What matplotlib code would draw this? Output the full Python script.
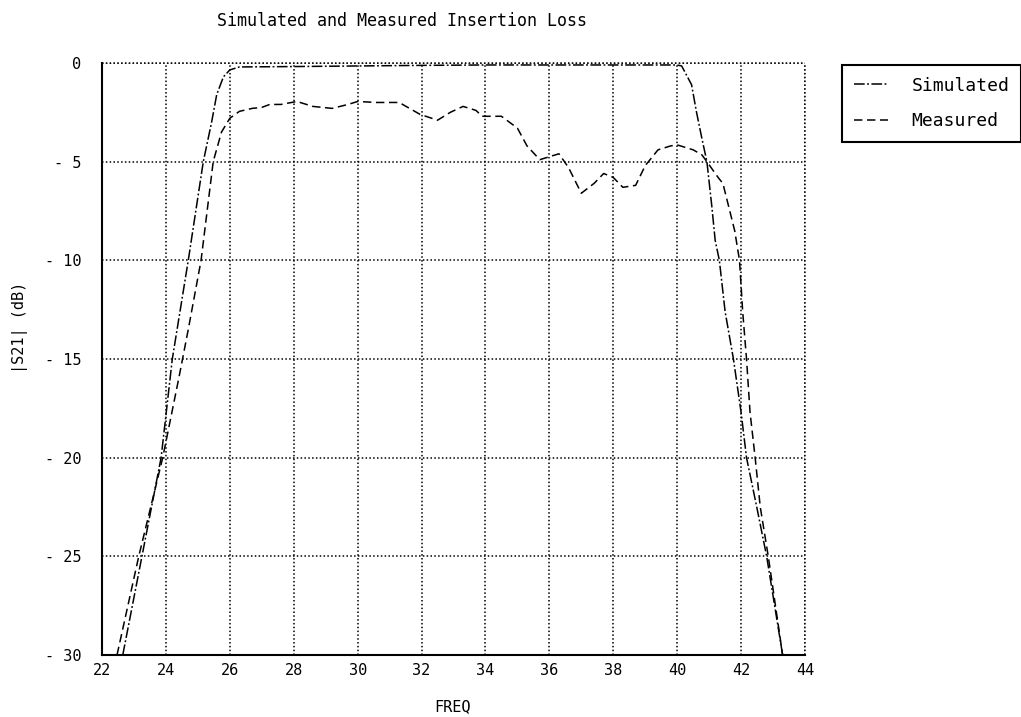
import matplotlib
matplotlib.use("Agg")
from matplotlib import pyplot as plt
from matplotlib.ticker import FuncFormatter

# simulated |S21| (dB) vs frequency (GHz)
sim_freq = [22.65, 23.25, 23.85, 24.2, 24.7, 25.17, 25.43, 25.59, 25.8, 26.0, 26.3,
            28.0, 30.0, 32.0, 34.0, 36.0, 38.0, 40.0, 40.14, 40.45, 40.6, 40.77,
            40.93, 41.08, 41.19, 41.32, 41.5, 41.76, 42.0, 42.17, 42.49, 42.8, 43.3]
sim_db = [-30, -25, -20, -15, -10, -5, -3.0, -1.6, -0.7, -0.35, -0.2,
          -0.18, -0.15, -0.12, -0.1, -0.1, -0.1, -0.1, -0.15, -1.1, -2.45, -3.8,
          -5.0, -7.2, -9.0, -10, -12.6, -15, -17.7, -20, -22.5, -25, -30]

# measured |S21| (dB)
meas_freq = [22.47, 23.15, 23.9, 24.4, 24.7, 25.1, 25.48, 25.74, 26.0, 26.3, 26.7,
             27.0, 27.25, 27.6, 28.1, 28.6, 29.2, 29.7, 30.0, 30.6, 31.3, 31.95,
             32.5, 32.9, 33.3, 33.7, 33.9, 34.5, 35.0, 35.3, 35.7, 36.1, 36.3,
             36.6, 37.0, 37.4, 37.7, 38.0, 38.3, 38.7, 39.0, 39.4, 39.8, 40.0,
             40.5, 40.77, 40.93, 41.28, 41.43, 41.6, 41.8, 41.95, 42.05, 42.17,
             42.28, 42.44, 42.6, 42.85, 43.3]
meas_db = [-30, -25, -20, -16, -13.5, -10, -5, -3.5, -2.8, -2.45, -2.3,
           -2.25, -2.1, -2.1, -1.95, -2.2, -2.3, -2.1, -1.95, -2.0, -2.0, -2.6,
           -2.9, -2.5, -2.2, -2.4, -2.7, -2.7, -3.3, -4.2, -4.9, -4.7, -4.6,
           -5.3, -6.6, -6.1, -5.6, -5.8, -6.3, -6.2, -5.2, -4.4, -4.2, -4.15,
           -4.4, -4.65, -5.0, -5.8, -6.1, -7.2, -8.5, -10, -12.6, -15,
           -17.7, -20, -22.5, -25, -30]

x_ticks = list(range(22, 45, 2))
y_ticks = list(range(-30, 1, 5))

mono = "DejaVu Sans Mono"
dots = (0, (1, 1.5))

fig = plt.figure(figsize=(10.21, 7.17), dpi=100)
ax = fig.add_axes([102 / 1021, 1 - 655 / 717, (805 - 102) / 1021, (655 - 63) / 717])

ax.plot(sim_freq, sim_db, color="black", lw=1.1,
        linestyle=(0, (7, 1.6, 1.2, 1.6)), label="Simulated")
ax.plot(meas_freq, meas_db, color="black", lw=1.1,
        linestyle=(0, (5.5, 3)), label="Measured")

ax.set_xlim(22, 44)
ax.set_ylim(-30, 0)
ax.set_xticks(x_ticks)
ax.set_yticks(y_ticks)
ax.yaxis.set_major_formatter(FuncFormatter(lambda v, p: "0" if v == 0 else "- %d" % abs(v)))
ax.tick_params(axis="both", length=0, labelsize=11)
ax.tick_params(axis="x", pad=6)
ax.tick_params(axis="y", pad=15)
for lab in ax.get_xticklabels() + ax.get_yticklabels():
    lab.set_family(mono)

ax.grid(True, color="black", lw=1.1, linestyle=dots)
ax.spines["top"].set_visible(False)
ax.spines["right"].set_visible(False)
ax.spines["left"].set_linewidth(1.5)
ax.spines["bottom"].set_linewidth(1.5)
# grid at the upper/right limits stands in for the frame
ax.axhline(0, color="black", lw=1.1, linestyle=dots, clip_on=False)
ax.axvline(44, color="black", lw=1.1, linestyle=dots, clip_on=False)

leg = ax.legend(loc="upper left", bbox_to_anchor=(842 / 1021, 1 - 65 / 717),
                bbox_transform=fig.transFigure, prop={"family": mono, "size": 13},
                handlelength=1.9, handletextpad=1.3, labelspacing=0.95,
                borderpad=0.65, borderaxespad=0, fancybox=False, framealpha=1)
leg.get_frame().set_edgecolor("black")
leg.get_frame().set_linewidth(1.5)

fig.text(402 / 1021, 1 - 21 / 717, "Simulated and Measured Insertion Loss",
         family=mono, fontsize=12, ha="center", va="center")
fig.text(452 / 1021, 1 - 707 / 717, "FREQ", family=mono, fontsize=11,
         ha="center", va="center")
fig.text(20 / 1021, 1 - 327 / 717, "|S21| (dB)", family=mono, fontsize=11,
         ha="center", va="center", rotation=90)

fig.savefig("out.png", dpi=100)
